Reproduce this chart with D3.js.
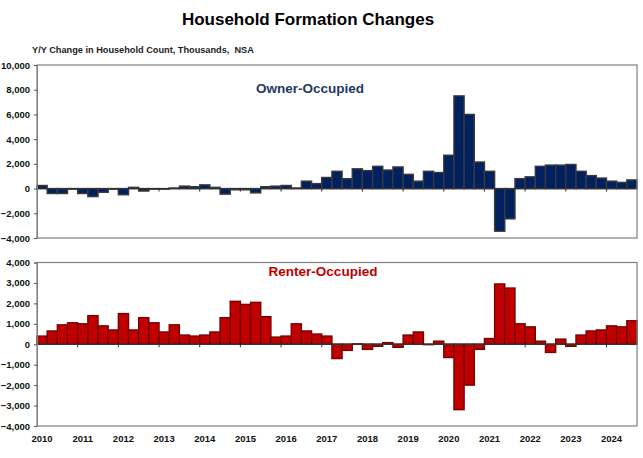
<!DOCTYPE html>
<html>
<head>
<meta charset="utf-8">
<script src="https://cdn.jsdelivr.net/npm/d3@7"></script>
<style>
  body { margin: 0; background: #fff; }
  text { font-family: "Liberation Sans", Arial, sans-serif; }
</style>
</head>
<body>
<script>
// quarterly, 2010 Q1 .. 2024 Q3
const years = d3.range(2010, 2025);
const quarters = [];
years.forEach(y => [1, 2, 3, 4].forEach(q => { if (y < 2024 || q <= 3) quarters.push(y + "Q" + q); }));

const ownerValues = [
  250, -400, -400, -50, -400, -650, -300, -50, -500, 100, -200, -50,
  -50, 50, 200, 150, 300, 100, -450, -100, -100, -350, 150, 200,
  250, 50, 600, 400, 900, 1400, 800, 1600, 1450, 1800, 1500, 1750,
  1150, 600, 1400, 1300, 2700, 7500, 6000, 2150, 1400, -3450, -2450, 800,
  950, 1800, 1900, 1900, 1950, 1400, 1050, 850, 600, 500, 700
];
const renterValues = [
  400, 650, 950, 1050, 1000, 1400, 900, 700, 1500, 700, 1300, 1050,
  600, 950, 450, 400, 450, 600, 1300, 2100, 1950, 2050, 1350, 350,
  400, 1000, 650, 500, 400, -700, -300, 20, -250, -100, 80, -150,
  450, 600, -20, 150, -650, -3200, -2000, -250, 280, 2950, 2750, 1000,
  850, 150, -400, 250, -100, 450, 650, 700, 900, 850, 1150
];
const ownerTicks = [-4000, -2000, 0, 2000, 4000, 6000, 8000, 10000];
const renterTicks = [-4000, -3000, -2000, -1000, 0, 1000, 2000, 3000, 4000];

const W = 643, H = 458;
const svg = d3.select("body").append("svg").attr("width", W).attr("height", H);

const x = d3.scaleBand().domain(quarters).range([37, 637]).padding(0);
const fmt = d3.format(",");

svg.append("text")
  .attr("x", 308).attr("y", 25)
  .attr("text-anchor", "middle")
  .attr("font-size", 17).attr("font-weight", "bold")
  .text("Household Formation Changes");

svg.append("text")
  .attr("x", 32).attr("y", 53)
  .attr("font-size", 9.2).attr("font-weight", "bold").attr("fill", "#222")
  .attr("xml:space", "preserve")
  .text("Y/Y Change in Household Count, Thousands,  NSA");

function panel(values, domain, range, ticks, fill, stroke, label, labelColor, labelX, labelY) {
  const y = d3.scaleLinear().domain(domain).range(range);
  const g = svg.append("g");

  g.selectAll("rect.bar").data(values).enter().append("rect")
    .attr("class", "bar")
    .attr("x", (d, i) => x(quarters[i]))
    .attr("width", x.bandwidth())
    .attr("y", d => y(Math.max(0, d)))
    .attr("height", d => Math.abs(y(d) - y(0)))
    .attr("fill", fill)
    .attr("stroke", stroke)
    .attr("stroke-width", 1.4);

  // zero line with year ticks
  g.append("line")
    .attr("x1", x.range()[0]).attr("x2", x.range()[1])
    .attr("y1", y(0)).attr("y2", y(0))
    .attr("stroke", "#333").attr("stroke-width", 1.3);
  g.selectAll("line.yt").data(years.slice(1)).enter().append("line")
    .attr("class", "yt")
    .attr("x1", d => x(d + "Q1")).attr("x2", d => x(d + "Q1"))
    .attr("y1", y(0)).attr("y2", y(0) + 3)
    .attr("stroke", "#333");

  // frame
  g.append("rect")
    .attr("x", x.range()[0]).attr("y", range[1])
    .attr("width", x.range()[1] - x.range()[0])
    .attr("height", range[0] - range[1])
    .attr("fill", "none").attr("stroke", "#808080").attr("stroke-width", 1.2);

  const axis = d3.axisLeft(y).tickValues(ticks).tickFormat(fmt).tickSize(3).tickPadding(4);
  const ax = g.append("g").attr("transform", `translate(${x.range()[0]},0)`).call(axis);
  ax.select(".domain").attr("stroke", "#808080");
  ax.selectAll(".tick line").attr("stroke", "#555");
  ax.selectAll(".tick text")
    .attr("font-family", "Liberation Sans, Arial, sans-serif")
    .attr("font-size", 9.5).attr("font-weight", "bold").attr("fill", "#111");

  g.append("text")
    .attr("x", labelX).attr("y", labelY)
    .attr("text-anchor", "middle")
    .attr("font-size", 13.5).attr("font-weight", "bold")
    .attr("fill", labelColor)
    .text(label);
  return y;
}

panel(ownerValues, [-4000, 10000], [238, 65], ownerTicks,
  "#00205f", "#3a3a3a", "Owner-Occupied", "#1f3864", 310, 93);
panel(renterValues, [-4000, 4000], [426, 262.5], renterTicks,
  "#c00000", "#7a0000", "Renter-Occupied", "#c00000", 323, 276);

svg.selectAll("text.yr").data(years).enter().append("text")
  .attr("class", "yr")
  .attr("x", d => x(d + "Q1") + x.bandwidth() / 2)
  .attr("y", 442)
  .attr("text-anchor", "middle")
  .attr("font-size", 9.5).attr("font-weight", "bold").attr("fill", "#111")
  .text(d => d);
</script>
</body>
</html>
